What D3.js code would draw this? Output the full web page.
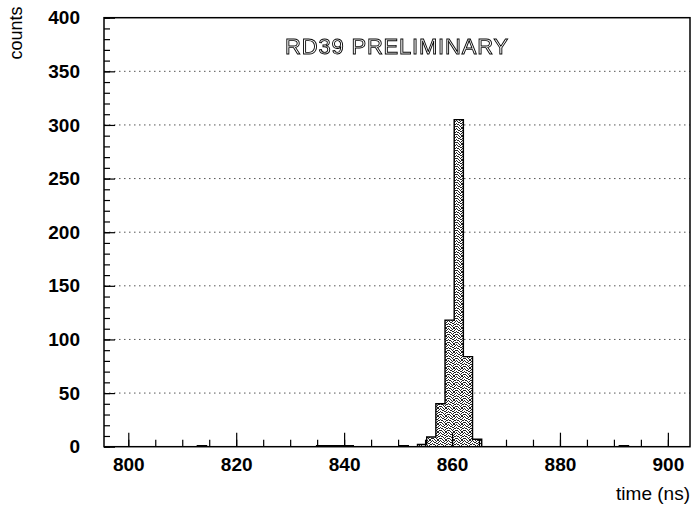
<!DOCTYPE html>
<html>
<head>
<meta charset="utf-8">
<script src="https://cdn.jsdelivr.net/npm/d3@7"></script>
<style>
  html, body { margin: 0; padding: 0; background: #fff; }
  svg { display: block; }
  text { font-family: "Liberation Sans", Arial, Helvetica, sans-serif; }
</style>
</head>
<body>
<svg id="chart" width="692" height="511"></svg>
<script>
// Timing histogram: 64 bins of 1.7 ns starting at 795.8 ns
const histStart = 795.8;
const binWidth = 1.7;
const counts = [
  0, 0, 0, 0, 0, 0, 0, 0, 0, 0,
  1, 0, 0, 0, 0, 0, 0, 0, 0, 0,
  0, 0, 0, 1, 1, 1, 1, 0, 0, 0,
  0, 0, 1, 0, 2, 9, 40, 118, 305, 84,
  7, 0, 0, 0, 0, 0, 0, 0, 0, 0,
  0, 0, 0, 0, 0, 0, 1, 0, 0, 0,
  0, 0, 0, 0
];

const xDomain = [795.5, 904.1];
const yDomain = [0, 400];
const xMajorTicks = [800, 820, 840, 860, 880, 900];
const xMinorTicks = [800, 805, 810, 815, 820, 825, 830, 835, 840, 845, 850, 855,
                     860, 865, 870, 875, 880, 885, 890, 895, 900];
const yMajorTicks = [0, 50, 100, 150, 200, 250, 300, 350, 400];
const yMinorTicks = d3.range(0, 401, 10);
const gridValues = [50, 100, 150, 200, 250, 300, 350];

const titleText = "RD39 PRELIMINARY";
const xTitle = "time (ns)";
const yTitle = "counts";

const frame = { left: 104, right: 690, top: 17.7, bottom: 446.7 };

const svg = d3.select("#chart");

const x = d3.scaleLinear().domain(xDomain).range([frame.left, frame.right]);
const y = d3.scaleLinear().domain(yDomain).range([frame.bottom, frame.top]);

const defs = svg.append("defs");

// grey-only rendering for the hollow title
const grey = defs.append("filter").attr("id", "grey")
  .attr("x", "-5%").attr("y", "-20%").attr("width", "110%").attr("height", "140%");
grey.append("feColorMatrix").attr("type", "saturate").attr("values", 0);

// irregular stipple fill for the bars
const pat = defs.append("pattern")
  .attr("id", "stipple")
  .attr("patternUnits", "userSpaceOnUse")
  .attr("width", 8).attr("height", 8);
pat.append("rect").attr("width", 8).attr("height", 8).attr("fill", "#fff");
const dots = [
  [0,0],[3,0],[5,0],[6,0],
  [1,1],[4,1],[7,1],
  [2,2],[3,2],[6,2],
  [0,3],[4,3],[5,3],
  [1,4],[2,4],[6,4],[7,4],
  [3,5],[5,5],
  [0,6],[1,6],[4,6],[7,6],
  [2,7],[5,7],[6,7]
];
pat.selectAll("rect.d").data(dots).enter().append("rect")
  .attr("class", "d")
  .attr("x", d => d[0]).attr("y", d => d[1])
  .attr("width", 1).attr("height", 1)
  .attr("fill", "#222");

const clip = defs.append("clipPath").attr("id", "plotclip");
clip.append("rect")
  .attr("x", frame.left).attr("y", frame.top)
  .attr("width", frame.right - frame.left)
  .attr("height", frame.bottom - frame.top);

// dotted horizontal grid
svg.append("g").selectAll("line").data(gridValues).enter().append("line")
  .attr("x1", frame.left).attr("x2", frame.right)
  .attr("y1", d => y(d)).attr("y2", d => y(d))
  .attr("stroke", "#555")
  .attr("stroke-width", 1)
  .attr("stroke-dasharray", "1.5,3.5");

// histogram bars
const bins = counts.map((c, i) => ({
  lo: histStart + i * binWidth,
  hi: histStart + (i + 1) * binWidth,
  c
}));

const plot = svg.append("g").attr("clip-path", "url(#plotclip)");
plot.selectAll("rect.bar").data(bins.filter(b => b.c > 0)).enter().append("rect")
  .attr("class", "bar")
  .attr("x", d => x(d.lo))
  .attr("width", d => x(d.hi) - x(d.lo))
  .attr("y", d => y(d.c))
  .attr("height", d => y(0) - y(d.c))
  .attr("fill", "url(#stipple)")
  .attr("shape-rendering", "crispEdges");

// step outline
const stepPts = bins.map(b => [b.lo, b.c]);
stepPts.push([bins[bins.length - 1].hi, bins[bins.length - 1].c]);
plot.append("path")
  .datum(stepPts)
  .attr("fill", "none")
  .attr("stroke", "#000")
  .attr("stroke-width", 1.4)
  .attr("d", d3.line().x(d => x(d[0])).y(d => y(d[1])).curve(d3.curveStepAfter));

// axes: ticks point inward
const xMinor = d3.axisBottom(x).tickValues(xMinorTicks).tickSize(-7).tickFormat("");
const xMajor = d3.axisBottom(x).tickValues(xMajorTicks).tickSize(-14).tickPadding(11).tickFormat(d3.format("d"));
const yMinor = d3.axisLeft(y).tickValues(yMinorTicks).tickSize(-6).tickFormat("");
const yMajor = d3.axisLeft(y).tickValues(yMajorTicks).tickSize(-11).tickPadding(24).tickFormat(d3.format("d"));

function styleAxis(g) {
  g.select(".domain").remove();
  g.selectAll(".tick line").attr("stroke", "#000").attr("stroke-width", 1.2);
  g.selectAll(".tick text")
    .attr("fill", "#000")
    .style("font-size", "19px")
    .style("font-weight", "bold")
    .style("font-family", "'Liberation Sans', Arial, Helvetica, sans-serif");
}

svg.append("g").attr("transform", `translate(0,${frame.bottom})`).call(xMinor).call(styleAxis);
svg.append("g").attr("transform", `translate(0,${frame.bottom})`).call(xMajor).call(styleAxis);
svg.append("g").attr("transform", `translate(${frame.left},0)`).call(yMinor).call(styleAxis);
svg.append("g").attr("transform", `translate(${frame.left},0)`).call(yMajor).call(styleAxis);

// frame
svg.append("rect")
  .attr("x", frame.left).attr("y", frame.top)
  .attr("width", frame.right - frame.left)
  .attr("height", frame.bottom - frame.top)
  .attr("fill", "none")
  .attr("stroke", "#000")
  .attr("stroke-width", 1.5);

// outlined (hollow) title
svg.append("text")
  .attr("x", 397).attr("y", 54)
  .attr("text-anchor", "middle")
  .attr("filter", "url(#grey)")
  .style("font-size", "22px")
  .style("letter-spacing", "0.8px")
  .attr("fill", "#fff")
  .attr("stroke", "#000")
  .attr("stroke-width", 0.9)
  .text(titleText);

// axis titles
svg.append("text")
  .attr("x", 690).attr("y", 500)
  .attr("text-anchor", "end")
  .style("font-size", "19px")
  .attr("fill", "#000")
  .text(xTitle);

svg.append("text")
  .attr("transform", "translate(22,33) rotate(-90)")
  .attr("text-anchor", "middle")
  .style("font-size", "18px")
  .attr("fill", "#000")
  .text(yTitle);
</script>
</body>
</html>
